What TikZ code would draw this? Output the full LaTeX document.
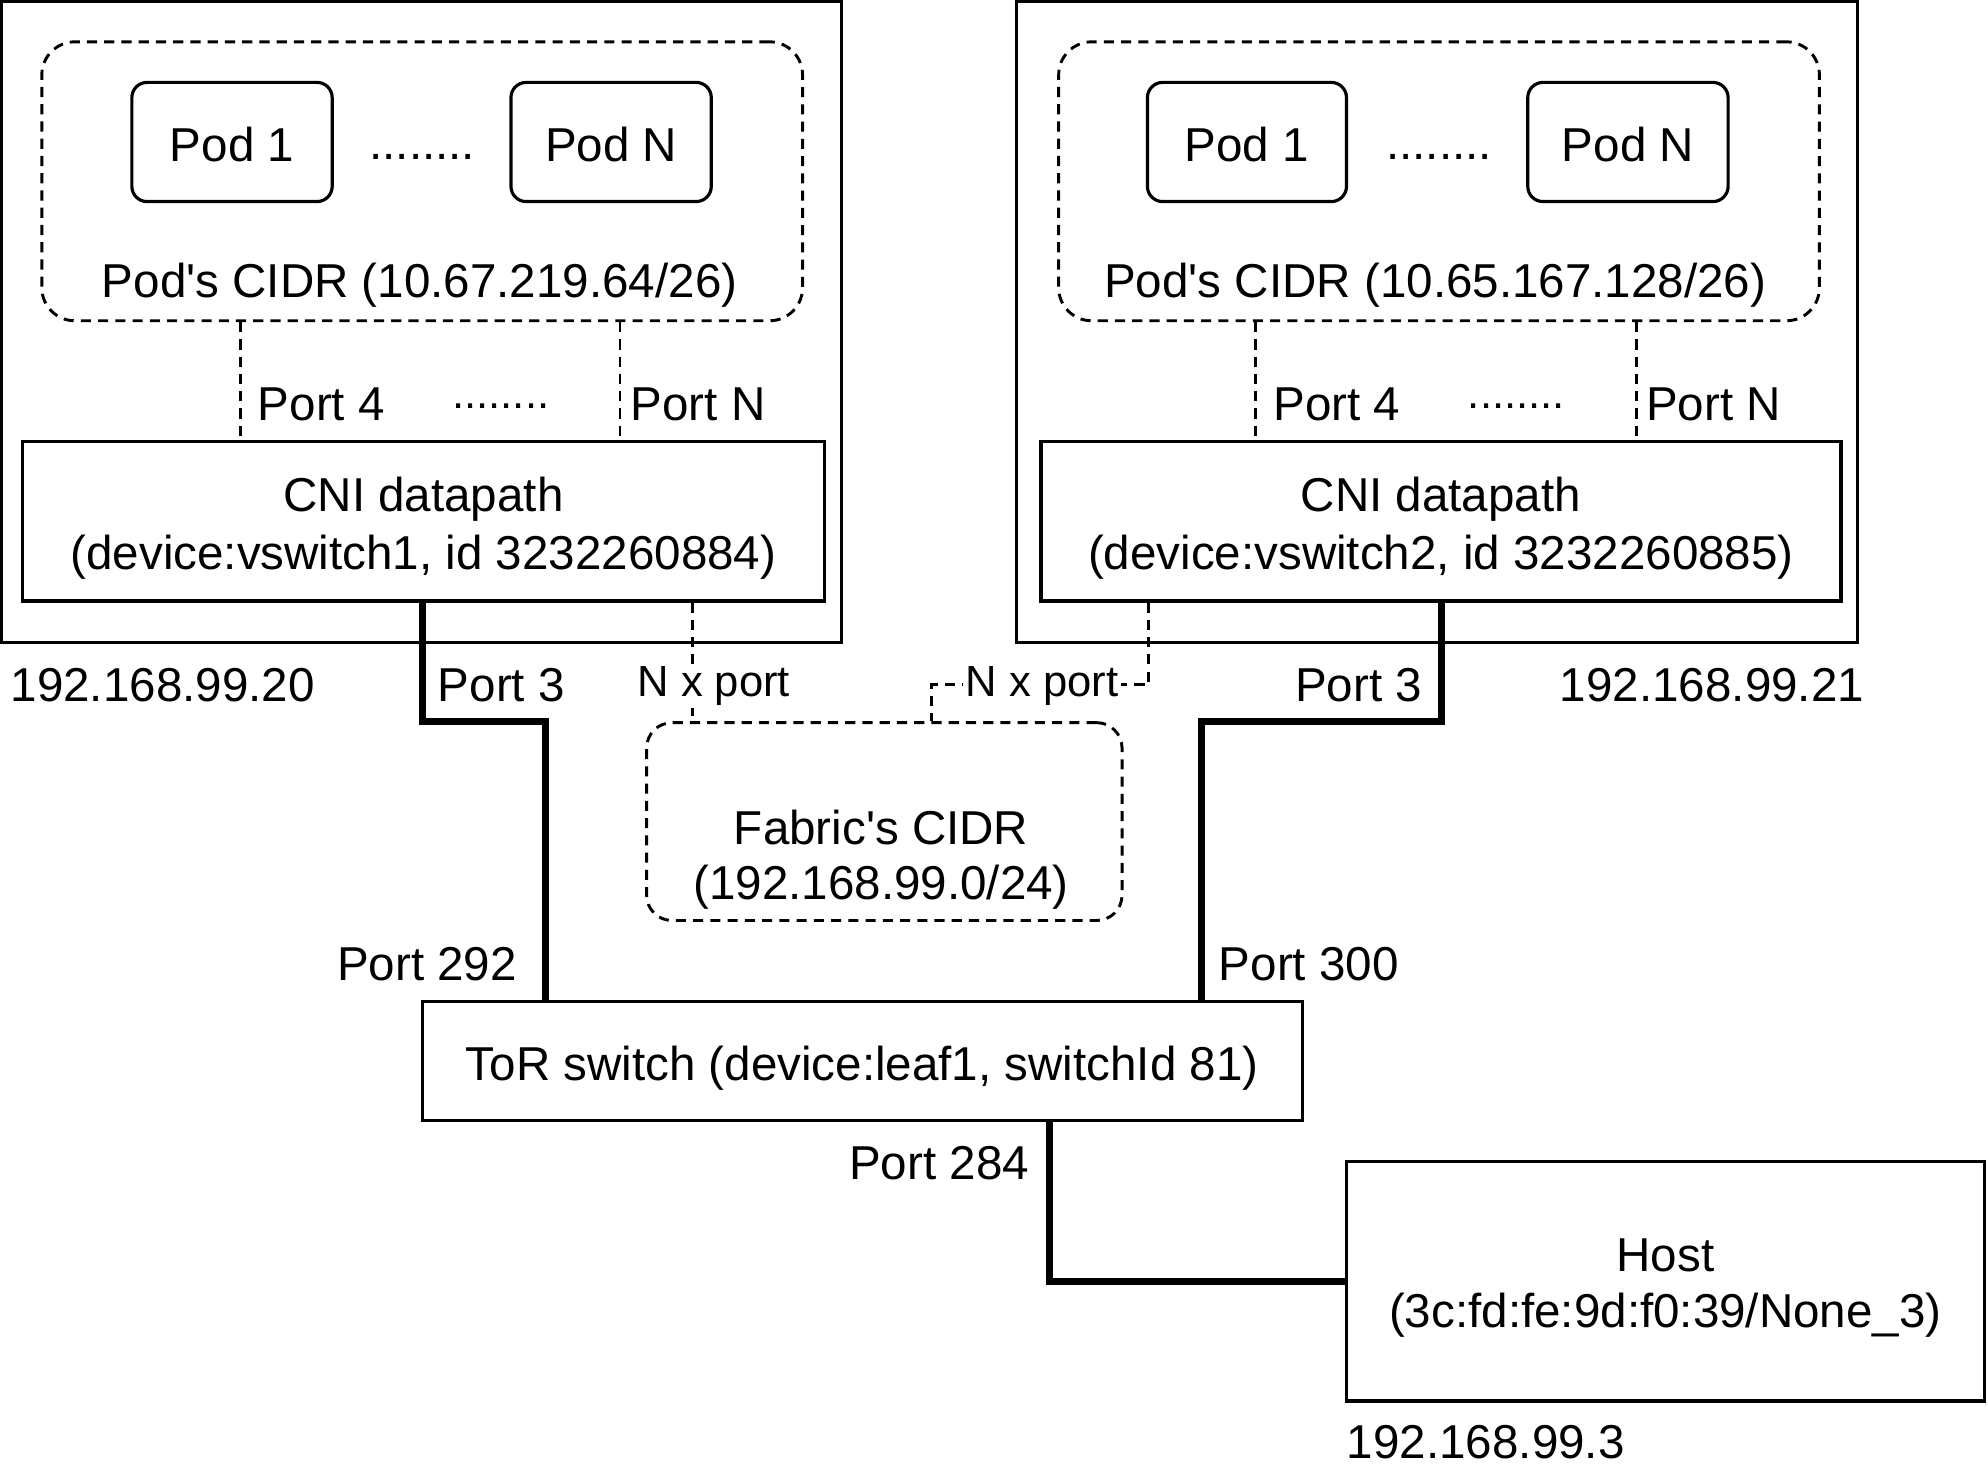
\documentclass[tikz,border=0pt]{standalone}
\usepackage{fontspec}
\setmainfont{Liberation Sans}
\usetikzlibrary{fit}

\begin{document}
\begin{tikzpicture}[x=0.5pt,y=-0.5pt,
  every node/.style={font=\fontsize{18.75}{23}\selectfont},
  every label/.style={yshift=-2.75pt,align=center},
  box/.style={draw,line width=1.25pt,inner sep=0pt,align=center},
  pod/.style={box,rounded corners=6pt},
  cidr/.style={draw,line width=1.15pt,dash pattern=on 4pt off 2.8pt,rounded corners=13pt,inner sep=0pt},
  link/.style={line width=2.8pt},
  vlink/.style={line width=1.15pt,dash pattern=on 4pt off 2.8pt},
  txt/.style={inner sep=0pt},
  small/.style={font=\fontsize{17.2}{21}\selectfont}]

\useasboundingbox (0,0) rectangle (1568,1170);

% Node 192.168.99.20
\node[box,fit={(1.5,1.5) (664,507)}] (hostA) {};
\node[cidr,fit={(33,33) (633,253)}] (cidrA) {};
\node[pod,fit={(104,65) (262,159)},label={[yshift=1.75pt]center:Pod 1}] (podA1) {};
\node[pod,fit={(403,65) (561,159)},label={[yshift=1.75pt]center:Pod N}] (podAN) {};
\node[txt,anchor=base] (dotsA) at (333,126) {........};
\node[txt,anchor=base] (cidrAtxt) at (331,235) {Pod\textquotesingle s CIDR (10.67.219.64/26)};
\node[box,fit={(18,348) (650,474)},label={center:CNI datapath\\(device:vswitch1, id 3232260884)}] (cniA) {};
\node[txt,anchor=base west] (p4A) at (203,331.5) {Port 4};
\node[txt,small,anchor=base] (pdotsA) at (395,322) {........};
\node[txt,anchor=base west] (pnA) at (497,331.5) {Port N};
\node[txt,anchor=base west] (ipA) at (8,553.5) {192.168.99.20};
\node[txt,anchor=base west] (p3A) at (345,553.5) {Port 3};

% Node 192.168.99.21
\node[box,fit={(802,1.5) (1465,507)}] (hostB) {};
\node[cidr,fit={(835,33) (1435,253)}] (cidrB) {};
\node[pod,fit={(905,65) (1062,159)},label={[yshift=1.75pt]center:Pod 1}] (podB1) {};
\node[pod,fit={(1205,65) (1363,159)},label={[yshift=1.75pt]center:Pod N}] (podBN) {};
\node[txt,anchor=base] (dotsB) at (1135,126) {........};
\node[txt,anchor=base] (cidrBtxt) at (1132,235) {Pod\textquotesingle s CIDR (10.65.167.128/26)};
\node[box,fit={(821,348) (1452,474)},label={center:CNI datapath\\(device:vswitch2, id 3232260885)}] (cniB) {};
\node[txt,anchor=base west] (p4B) at (1004,331.5) {Port 4};
\node[txt,small,anchor=base] (pdotsB) at (1196,322) {........};
\node[txt,anchor=base west] (pnB) at (1298,331.5) {Port N};
\node[txt,anchor=base east] (p3B) at (1122,553.5) {Port 3};
\node[txt,anchor=base west] (ipB) at (1230,553.5) {192.168.99.21};

% Fabric
\node[cidr,rounded corners=10pt,fit={(510,570) (885,726)}] (fabric) {};
\node[txt,align=center,font=\fontsize{18.75}{22}\selectfont] (fabrictxt) at (695,678) {Fabric\textquotesingle s CIDR\\(192.168.99.0/24)};

% ToR switch and host
\node[box,fit={(333,790) (1027,884)},label={center:ToR switch (device:leaf1, switchId 81)}] (tor) {};
\node[box,fit={(1062,916) (1565,1105)},label={[font=\fontsize{18.75}{22}\selectfont]center:Host\\(3c:fd:fe:9d:f0:39/None\_3)}] (host) {};
\node[txt,anchor=base east] (p292) at (408,773.5) {Port 292};
\node[txt,anchor=base west] (p300) at (961,773.5) {Port 300};
\node[txt,anchor=base east] (p284) at (812,930.5) {Port 284};
\node[txt,anchor=base west] (ipH) at (1062,1150.5) {192.168.99.3};

% Pod ports
\coordinate (lA4) at (190,0);
\coordinate (lAN) at (489,0);
\coordinate (lB4) at (990,0);
\coordinate (lBN) at (1291,0);
\draw[vlink] (cidrA.south -| lA4) -- (cniA.north -| lA4);
\draw[vlink] (cidrA.south -| lAN) -- (cniA.north -| lAN);
\draw[vlink] (cidrB.south -| lB4) -- (cniB.north -| lB4);
\draw[vlink] (cidrB.south -| lBN) -- (cniB.north -| lBN);

% Fabric ports
\coordinate (nA) at (546,0);
\coordinate (nB) at (906,0);
\coordinate (nL) at (735,540);
\draw[vlink] (cniA.south -| nA) -- (fabric.north -| nA);
\draw[vlink] (cniB.south -| nB) |- (nL) -- (fabric.north -| nL);
\node[txt,small,fill=white,inner sep=1pt,anchor=base] (nxA) at (563,549) {N x port};
\node[txt,small,fill=white,inner sep=1pt,anchor=base] (nxB) at (822,549) {N x port};

% Uplinks
\coordinate (bA) at (333,569);
\coordinate (bB) at (1137,569);
\coordinate (x292) at (430,0);
\coordinate (x300) at (948,0);
\coordinate (x284) at (828,0);
\draw[link] (cniA.south -| bA) -- (bA) -| (tor.north -| x292);
\draw[link] (cniB.south -| bB) -- (bB) -| (tor.north -| x300);
\draw[link] (tor.south -| x284) |- (host.west);

\end{tikzpicture}
\end{document}
